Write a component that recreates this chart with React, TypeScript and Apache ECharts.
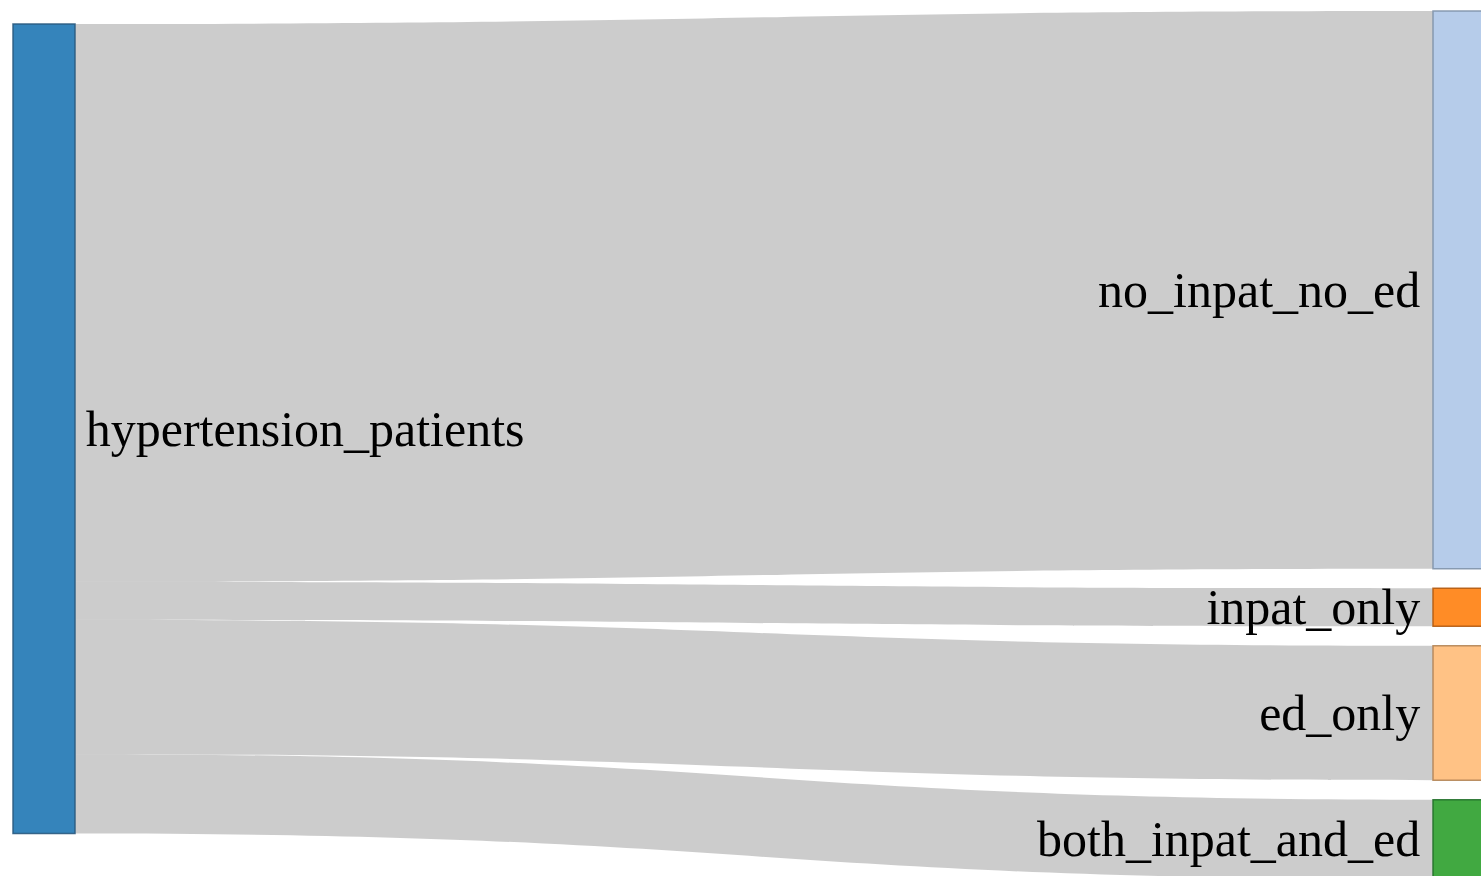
import React, { useEffect, useRef } from "react";
import * as echarts from "echarts";

const sourceName = "hypertension_patients";
const targetNames = ["no_inpat_no_ed", "inpat_only", "ed_only", "both_inpat_and_ed"];
const targetValues = [6890, 470, 1660, 980];
const nodeColors = ["#1f77b4", "#aec7e8", "#ff7f0e", "#ffbb78", "#2ca02c"];
const borderColors = ["#2a5a80", "#7f92aa", "#b35a10", "#b38455", "#22702a"];

export default function App() {
  const ref = useRef<HTMLDivElement>(null);
  useEffect(() => {
    document.body.style.margin = "0";
    const chart = echarts.init(ref.current!, null, { renderer: "svg" });
    const allNames = [sourceName, ...targetNames];
    const nodes = allNames.map((name, i) => {
      const item: any = {
        name,
        itemStyle: {
          color: nodeColors[i],
          opacity: 0.9,
          borderColor: borderColors[i],
          borderWidth: 1.5,
        },
        label: {
          position: i === 0 ? "right" : "left",
          distance: i === 0 ? 10 : 12,
        },
      };
      if (i === 0) item.localY = 13 / 868;
      return item;
    });
    const links = targetNames.map((t, i) => ({
      source: sourceName,
      target: t,
      value: targetValues[i],
    }));
    chart.setOption({
      animation: false,
      series: [
        {
          type: "sankey",
          left: 13,
          top: 11,
          width: 1482,
          height: 868,
          nodeWidth: 62,
          nodeGap: 19.5,
          layoutIterations: 0,
          draggable: false,
          emphasis: { disabled: true },
          data: nodes,
          links,
          label: {
            fontFamily: "Liberation Serif",
            fontSize: 50,
            color: "#000",
          },
          lineStyle: {
            color: "#000",
            opacity: 0.2,
            curveness: 0.5,
          },
        },
      ],
    });
    return () => chart.dispose();
  }, []);
  return <div ref={ref} style={{ width: 1481, height: 876 }} />;
}
